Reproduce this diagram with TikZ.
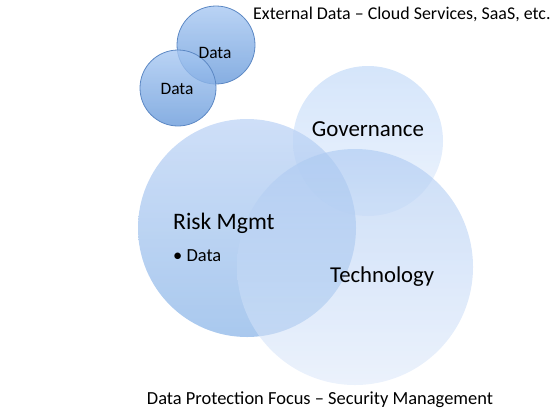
\documentclass[tikz,border=0pt]{standalone}
\usepackage{fontspec}
\setmainfont{Carlito}

\definecolor{datatop}{RGB}{168,200,242}
\definecolor{databot}{RGB}{104,154,218}
\definecolor{dataline}{RGB}{92,136,196}
\definecolor{risktop}{RGB}{190,212,245}
\definecolor{riskbot}{RGB}{140,182,232}
\definecolor{techtop}{RGB}{170,200,242}
\definecolor{techbot}{RGB}{222,233,250}
\definecolor{govtop}{RGB}{190,215,248}
\definecolor{govbot}{RGB}{228,238,252}

\tikzset{
  datacircle/.style = {circle, draw = dataline, line width = 0.8bp, inner sep = 0pt,
    top color = datatop, bottom color = databot, fill opacity = 0.8,
    minimum size = #1},
  bigcircle/.style = {circle, inner sep = 0pt, fill opacity = 0.65,
    minimum size = #1},
  label/.style = {text = black, inner sep = 0pt}
}

\begin{document}
\begin{tikzpicture}[x = 1bp, y = -1bp]
	 \useasboundingbox (0, 0) rectangle (556, 413);
	 
	 \node[datacircle = 78bp] (data1) at (216, 45) {};
	 \node[datacircle = 76bp] (data2) at (178, 88) {};
	 
	 \node[bigcircle = 150bp, top color = govtop, bottom color = govbot] (gov) at (368, 141) {};
	 \node[bigcircle = 218bp, top color = risktop, bottom color = riskbot, fill opacity = 0.75] (risk) at (247, 228) {};
	 \node[bigcircle = 236bp, top color = techtop, bottom color = techbot, fill opacity = 0.6] (tech) at (355, 267) {};
	 
	 \node[label, font = \fontsize{17.5}{20}\selectfont] (datalbl1) at (215, 53) {Data};
	 \node[label, font = \fontsize{17.5}{20}\selectfont] (datalbl2) at (177, 89) {Data};
	 
	 \node[label, anchor = west, font = \fontsize{18}{20}\selectfont] (external) at (253, 14) {External Data -- Cloud Services, SaaS, etc.};
	 
	 \node[label, font = \fontsize{23}{26}\selectfont] (govlbl) at (368, 129) {Governance};
	 \node[label, anchor = west, font = \fontsize{23.7}{26}\selectfont] (risklbl) at (173, 223) {Risk Mgmt};
	 \node[label, anchor = west, font = \fontsize{18.5}{20}\selectfont] (bullet) at (173, 256) {\textbullet\ Data};
	 \node[label, anchor = west, font = \fontsize{22.8}{26}\selectfont] (techlbl) at (330, 277) {Technology};
	 
	 \node[label, font = \fontsize{18.5}{20}\selectfont] (caption) at (320, 400) {Data Protection Focus -- Security Management};
\end{tikzpicture}
\end{document}
